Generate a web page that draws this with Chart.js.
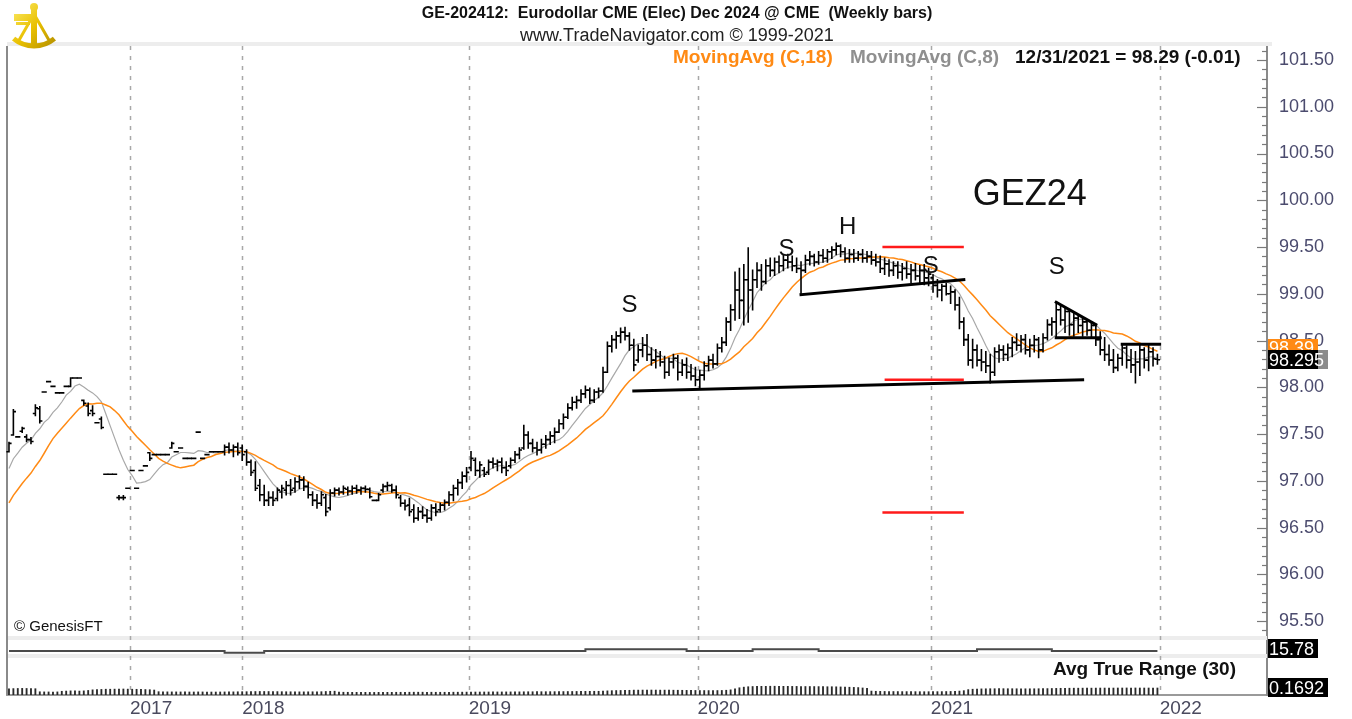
<!DOCTYPE html>
<html>
<head>
<meta charset="utf-8">
<title>GEZ24 weekly bars</title>
<script src="https://cdn.jsdelivr.net/npm/chart.js@4.4.1/dist/chart.umd.min.js"></script>
<style>
  html, body { margin: 0; padding: 0; background: #fff; }
  #wrap { position: relative; width: 1352px; height: 719px; overflow: hidden; font-family: "Liberation Sans", Arial, sans-serif; }
  #wrap canvas { position: absolute; left: 0; top: 0; }
  #wrap #logo { left: 8px; top: 2px; }
  .txt { position: absolute; white-space: nowrap; line-height: 1; }
</style>
</head>
<body>
<div id="wrap">
  <canvas id="chart" width="1352" height="719"></canvas>
  <canvas id="logo" width="52" height="50"></canvas>
  <div class="txt" style="left:0;top:5px;width:1354px;text-align:center;font-weight:bold;font-size:16px;color:#111">GE-202412:&nbsp; Eurodollar CME (Elec) Dec 2024 @ CME&nbsp; (Weekly bars)</div>
  <div class="txt" style="left:0;top:26px;width:1354px;text-align:center;font-size:18px;color:#222">www.TradeNavigator.com © 1999-2021</div>
  <div class="txt" id="lgLong" style="left:673px;top:47px;font-weight:bold;font-size:19px;color:#ff8a14"></div>
  <div class="txt" id="lgShort" style="left:850px;top:47px;font-weight:bold;font-size:19px;color:#8f8f8f"></div>
  <div class="txt" id="lgLast" style="left:1015px;top:47px;font-weight:bold;font-size:19px;color:#111"></div>
  <div class="txt" style="left:14px;top:618px;font-size:15px;color:#111">© GenesisFT</div>
  <div class="txt" id="lgAtr" style="left:1053px;top:659px;font-weight:bold;font-size:19px;color:#111"></div>
</div>
<script>
// weekly bars, index 0 = first visible week
const opens = [
  97.31, 97.49, 97.47, 97.53, 97.47, 97.44, 97.72, 97.77, 97.95, 98.06,
  98.01, 97.94, 97.94, 98.01, 98.01, 98.10, 98.10, 97.86, 97.80, 97.75,
  97.62, 97.66, 97.07, 97.07, 97.07, 96.82, 96.82, 96.92, 97.11, 96.92,
  97.11, 97.16, 97.30, 97.28, 97.28, 97.28, 97.28, 97.35, 97.31, 97.35,
  97.24, 97.24, 97.24, 97.52, 97.24, 97.28, 97.31, 97.31, 97.31, 97.31,
  97.36, 97.33, 97.36, 97.35, 97.31, 97.20, 97.11, 96.95, 96.85, 96.79,
  96.82, 96.81, 96.88, 96.90, 96.95, 96.92, 96.99, 97.01, 96.94, 96.85,
  96.79, 96.76, 96.82, 96.71, 96.87, 96.90, 96.88, 96.91, 96.89, 96.92,
  96.90, 96.92, 96.91, 96.79, 96.79, 96.90, 96.94, 96.95, 96.90, 96.82,
  96.76, 96.74, 96.69, 96.60, 96.67, 96.63, 96.60, 96.71, 96.69, 96.74,
  96.77, 96.85, 96.92, 96.98, 97.05, 97.14, 97.22, 97.11, 97.11, 97.09,
  97.20, 97.18, 97.20, 97.14, 97.16, 97.22, 97.28, 97.35, 97.49, 97.40,
  97.35, 97.33, 97.39, 97.44, 97.48, 97.52, 97.61, 97.68, 97.78, 97.84,
  97.86, 97.93, 97.97, 97.86, 97.95, 97.96, 98.16, 98.44, 98.51, 98.55,
  98.59, 98.55, 98.45, 98.29, 98.40, 98.45, 98.35, 98.29, 98.33, 98.27,
  98.16, 98.27, 98.31, 98.16, 98.24, 98.16, 98.12, 98.08, 98.13, 98.23,
  98.29, 98.25, 98.42, 98.48, 98.70, 98.83, 99.04, 98.93, 99.15, 99.04,
  99.15, 99.25, 99.13, 99.30, 99.25, 99.34, 99.30, 99.36, 99.34, 99.30,
  99.27, 99.25, 99.36, 99.40, 99.34, 99.41, 99.38, 99.45, 99.47, 99.51,
  99.45, 99.38, 99.42, 99.38, 99.42, 99.38, 99.40, 99.36, 99.34, 99.27,
  99.32, 99.25, 99.30, 99.23, 99.27, 99.21, 99.25, 99.19, 99.25, 99.17,
  99.17, 99.09, 99.04, 99.08, 99.00, 99.02, 98.88, 98.70, 98.51, 98.29,
  98.40, 98.29, 98.27, 98.23, 98.16, 98.38, 98.40, 98.35, 98.42, 98.48,
  98.45, 98.51, 98.40, 98.45, 98.51, 98.40, 98.53, 98.67, 98.70, 98.83,
  98.72, 98.81, 98.67, 98.74, 98.66, 98.70, 98.61, 98.66, 98.51, 98.40,
  98.35, 98.29, 98.21, 98.31, 98.42, 98.29, 98.24, 98.27, 98.40, 98.29,
  98.38, 98.30
];
const highs = [
  97.41, 97.76, 97.47, 97.57, 97.49, 97.46, 97.81, 97.79, 97.95, 98.06,
  98.01, 97.94, 97.94, 98.01, 98.10, 98.10, 98.10, 97.86, 97.83, 97.80,
  97.62, 97.68, 97.07, 97.07, 97.07, 96.84, 96.84, 96.92, 97.11, 96.92,
  97.11, 97.16, 97.30, 97.28, 97.28, 97.28, 97.28, 97.41, 97.31, 97.35,
  97.24, 97.24, 97.24, 97.52, 97.24, 97.28, 97.31, 97.31, 97.31, 97.38,
  97.40, 97.38, 97.40, 97.38, 97.33, 97.22, 97.20, 97.01, 96.95, 96.88,
  96.88, 96.92, 96.95, 96.99, 97.01, 97.03, 97.05, 97.04, 96.98, 96.88,
  96.85, 96.88, 96.85, 96.90, 96.92, 96.92, 96.94, 96.93, 96.94, 96.95,
  96.93, 96.94, 96.92, 96.79, 96.86, 96.96, 96.98, 96.96, 96.94, 96.84,
  96.79, 96.81, 96.74, 96.71, 96.72, 96.69, 96.74, 96.75, 96.76, 96.79,
  96.88, 96.95, 97.01, 97.09, 97.14, 97.31, 97.24, 97.20, 97.14, 97.22,
  97.24, 97.22, 97.24, 97.20, 97.24, 97.31, 97.35, 97.59, 97.52, 97.44,
  97.41, 97.44, 97.48, 97.52, 97.56, 97.65, 97.71, 97.82, 97.89, 97.90,
  97.97, 98.01, 97.99, 97.97, 97.99, 98.21, 98.48, 98.55, 98.59, 98.63,
  98.64, 98.58, 98.51, 98.45, 98.53, 98.56, 98.42, 98.40, 98.38, 98.33,
  98.31, 98.35, 98.34, 98.29, 98.31, 98.24, 98.21, 98.18, 98.27, 98.33,
  98.35, 98.46, 98.53, 98.74, 98.88, 99.23, 99.27, 99.31, 99.49, 99.25,
  99.33, 99.31, 99.36, 99.38, 99.38, 99.40, 99.41, 99.42, 99.40, 99.38,
  99.34, 99.41, 99.45, 99.42, 99.45, 99.47, 99.47, 99.50, 99.54, 99.52,
  99.49, 99.47, 99.47, 99.45, 99.47, 99.45, 99.45, 99.42, 99.40, 99.38,
  99.36, 99.34, 99.34, 99.32, 99.34, 99.31, 99.32, 99.30, 99.31, 99.27,
  99.20, 99.15, 99.10, 99.11, 99.08, 99.04, 98.96, 98.74, 98.56, 98.51,
  98.45, 98.40, 98.38, 98.35, 98.42, 98.45, 98.44, 98.46, 98.53, 98.57,
  98.55, 98.56, 98.51, 98.55, 98.53, 98.57, 98.72, 98.74, 98.91, 98.88,
  98.85, 98.83, 98.79, 98.76, 98.74, 98.72, 98.70, 98.67, 98.59, 98.53,
  98.45, 98.40, 98.35, 98.46, 98.44, 98.40, 98.38, 98.45, 98.42, 98.46,
  98.42, 98.35
];
const lows = [
  97.31, 97.49, 97.47, 97.52, 97.42, 97.40, 97.70, 97.62, 97.95, 98.06,
  98.01, 97.94, 97.94, 98.01, 98.01, 98.10, 98.10, 97.81, 97.70, 97.70,
  97.62, 97.56, 97.07, 97.07, 97.07, 96.80, 96.80, 96.92, 97.11, 96.92,
  97.11, 97.16, 97.22, 97.28, 97.28, 97.28, 97.28, 97.35, 97.31, 97.35,
  97.24, 97.24, 97.24, 97.52, 97.24, 97.28, 97.31, 97.31, 97.31, 97.28,
  97.30, 97.26, 97.28, 97.22, 97.17, 97.06, 96.90, 96.79, 96.74, 96.74,
  96.74, 96.79, 96.82, 96.85, 96.85, 96.88, 96.92, 96.90, 96.82, 96.74,
  96.71, 96.74, 96.63, 96.69, 96.84, 96.85, 96.86, 96.85, 96.86, 96.87,
  96.86, 96.88, 96.82, 96.79, 96.79, 96.88, 96.90, 96.88, 96.82, 96.73,
  96.69, 96.63, 96.56, 96.58, 96.60, 96.56, 96.58, 96.63, 96.67, 96.69,
  96.74, 96.79, 96.85, 96.92, 96.99, 97.11, 97.06, 97.04, 97.05, 97.07,
  97.14, 97.11, 97.09, 97.06, 97.14, 97.20, 97.24, 97.34, 97.35, 97.31,
  97.28, 97.30, 97.35, 97.39, 97.41, 97.52, 97.56, 97.67, 97.76, 97.78,
  97.84, 97.89, 97.83, 97.84, 97.89, 97.95, 98.16, 98.38, 98.42, 98.48,
  98.51, 98.40, 98.18, 98.27, 98.33, 98.29, 98.24, 98.21, 98.23, 98.10,
  98.13, 98.21, 98.08, 98.13, 98.10, 98.08, 98.02, 98.00, 98.08, 98.18,
  98.21, 98.24, 98.38, 98.45, 98.61, 98.72, 98.74, 98.67, 98.70, 98.83,
  99.07, 99.04, 99.11, 99.19, 99.20, 99.23, 99.25, 99.28, 99.25, 99.23,
  98.99, 99.23, 99.31, 99.30, 99.32, 99.34, 99.34, 99.38, 99.42, 99.40,
  99.34, 99.34, 99.34, 99.36, 99.34, 99.34, 99.32, 99.30, 99.23, 99.21,
  99.19, 99.20, 99.17, 99.15, 99.17, 99.12, 99.15, 99.12, 99.10, 99.09,
  99.02, 98.97, 98.93, 98.99, 98.90, 98.83, 98.63, 98.45, 98.24, 98.21,
  98.23, 98.18, 98.16, 98.05, 98.13, 98.27, 98.29, 98.29, 98.33, 98.40,
  98.38, 98.36, 98.33, 98.38, 98.32, 98.38, 98.51, 98.56, 98.53, 98.67,
  98.59, 98.56, 98.55, 98.59, 98.55, 98.56, 98.53, 98.45, 98.35, 98.29,
  98.24, 98.16, 98.18, 98.24, 98.21, 98.16, 98.05, 98.13, 98.21, 98.18,
  98.23, 98.25
];
const closes = [
  97.40, 97.74, 97.47, 97.56, 97.44, 97.42, 97.78, 97.64, 97.95, 98.06,
  98.01, 97.94, 97.94, 98.01, 98.10, 98.10, 98.10, 97.83, 97.72, 97.72,
  97.62, 97.57, 97.07, 97.07, 97.07, 96.82, 96.82, 96.92, 97.11, 96.92,
  97.11, 97.16, 97.24, 97.28, 97.28, 97.28, 97.28, 97.40, 97.31, 97.35,
  97.24, 97.24, 97.24, 97.52, 97.24, 97.28, 97.31, 97.31, 97.31, 97.36,
  97.33, 97.36, 97.30, 97.28, 97.20, 97.09, 96.92, 96.85, 96.79, 96.82,
  96.79, 96.90, 96.92, 96.95, 96.90, 96.99, 97.01, 96.94, 96.85, 96.79,
  96.76, 96.85, 96.67, 96.87, 96.90, 96.88, 96.92, 96.89, 96.92, 96.90,
  96.92, 96.91, 96.83, 96.79, 96.85, 96.94, 96.95, 96.90, 96.85, 96.76,
  96.73, 96.67, 96.60, 96.67, 96.63, 96.60, 96.71, 96.67, 96.74, 96.77,
  96.85, 96.92, 96.98, 97.05, 97.09, 97.24, 97.11, 97.17, 97.07, 97.20,
  97.18, 97.20, 97.14, 97.11, 97.22, 97.28, 97.33, 97.49, 97.40, 97.35,
  97.33, 97.39, 97.44, 97.48, 97.52, 97.61, 97.68, 97.78, 97.84, 97.86,
  97.93, 97.97, 97.86, 97.95, 97.96, 98.16, 98.44, 98.51, 98.55, 98.59,
  98.55, 98.45, 98.24, 98.40, 98.45, 98.35, 98.29, 98.33, 98.27, 98.16,
  98.27, 98.31, 98.16, 98.24, 98.16, 98.12, 98.08, 98.13, 98.23, 98.29,
  98.25, 98.42, 98.48, 98.70, 98.83, 99.04, 98.93, 99.15, 99.04, 99.15,
  99.25, 99.13, 99.30, 99.25, 99.34, 99.30, 99.36, 99.34, 99.30, 99.27,
  99.25, 99.36, 99.40, 99.34, 99.41, 99.38, 99.45, 99.47, 99.51, 99.45,
  99.38, 99.42, 99.38, 99.42, 99.38, 99.40, 99.36, 99.34, 99.27, 99.32,
  99.25, 99.30, 99.23, 99.27, 99.21, 99.25, 99.19, 99.25, 99.17, 99.21,
  99.09, 99.04, 99.08, 99.00, 99.02, 98.88, 98.70, 98.51, 98.29, 98.40,
  98.29, 98.27, 98.23, 98.16, 98.38, 98.40, 98.35, 98.42, 98.48, 98.45,
  98.51, 98.40, 98.45, 98.51, 98.40, 98.53, 98.67, 98.70, 98.83, 98.72,
  98.81, 98.67, 98.74, 98.66, 98.70, 98.61, 98.66, 98.51, 98.40, 98.35,
  98.29, 98.21, 98.31, 98.42, 98.29, 98.24, 98.27, 98.40, 98.29, 98.38,
  98.305, 98.295
];
// closes of the 17 weeks before the window (seed for the averages)
const priorCloses = [96.30, 96.35, 96.40, 96.40, 96.45, 96.50, 96.50, 96.55, 96.60, 96.65,
  96.90, 97.00, 97.05, 97.10, 97.15, 97.20, 97.25];

// Avg True Range (30), per week
const atr = [
  0.150, 0.155, 0.158, 0.160, 0.158, 0.155, 0.152, 0.078, 0.075, 0.074,
  0.073, 0.075, 0.090, 0.095, 0.100, 0.098, 0.095, 0.100, 0.110, 0.125,
  0.130, 0.135, 0.140, 0.140, 0.142, 0.145, 0.145, 0.142, 0.140, 0.138,
  0.135, 0.132, 0.128, 0.120, 0.080, 0.078, 0.076, 0.075, 0.075, 0.074,
  0.074, 0.073, 0.073, 0.075, 0.074, 0.073, 0.072, 0.072, 0.073, 0.074,
  0.075, 0.076, 0.078, 0.080, 0.080, 0.082, 0.084, 0.085, 0.085, 0.084,
  0.083, 0.082, 0.080, 0.079, 0.078, 0.077, 0.076, 0.076, 0.077, 0.078,
  0.079, 0.080, 0.085, 0.090, 0.092, 0.068, 0.067, 0.066, 0.065, 0.065,
  0.064, 0.064, 0.063, 0.063, 0.064, 0.064, 0.065, 0.065, 0.066, 0.066,
  0.066, 0.067, 0.068, 0.068, 0.068, 0.067, 0.067, 0.066, 0.066, 0.066,
  0.067, 0.068, 0.068, 0.069, 0.070, 0.071, 0.072, 0.072, 0.073, 0.073,
  0.074, 0.074, 0.074, 0.075, 0.075, 0.075, 0.076, 0.078, 0.079, 0.079,
  0.080, 0.080, 0.080, 0.081, 0.081, 0.082, 0.083, 0.084, 0.085, 0.086,
  0.087, 0.088, 0.089, 0.090, 0.090, 0.092, 0.100, 0.105, 0.108, 0.110,
  0.112, 0.114, 0.118, 0.118, 0.119, 0.120, 0.120, 0.119, 0.118, 0.118,
  0.117, 0.116, 0.115, 0.114, 0.112, 0.110, 0.110, 0.108, 0.108, 0.107,
  0.107, 0.108, 0.110, 0.115, 0.125, 0.150, 0.175, 0.190, 0.200, 0.205,
  0.208, 0.210, 0.210, 0.212, 0.212, 0.212, 0.210, 0.210, 0.208, 0.208,
  0.206, 0.205, 0.205, 0.204, 0.203, 0.202, 0.200, 0.200, 0.198, 0.195,
  0.192, 0.188, 0.184, 0.180, 0.170, 0.160, 0.095, 0.090, 0.088, 0.086,
  0.085, 0.084, 0.083, 0.082, 0.082, 0.081, 0.081, 0.080, 0.080, 0.080,
  0.080, 0.081, 0.082, 0.084, 0.086, 0.090, 0.095, 0.105, 0.130, 0.140,
  0.145, 0.148, 0.150, 0.152, 0.152, 0.153, 0.153, 0.152, 0.152, 0.151,
  0.150, 0.150, 0.150, 0.151, 0.152, 0.153, 0.155, 0.157, 0.160, 0.162,
  0.163, 0.164, 0.165, 0.165, 0.166, 0.166, 0.166, 0.167, 0.168, 0.168,
  0.168, 0.168, 0.169, 0.169, 0.170, 0.170, 0.170, 0.169, 0.169, 0.169,
  0.1692, 0.1692
];

// thin middle study line
const midLine = [
  15.78, 15.78, 15.78, 15.78, 15.78, 15.78, 15.78, 15.78, 15.78, 15.78,
  15.78, 15.78, 15.78, 15.78, 15.78, 15.78, 15.78, 15.78, 15.78, 15.78,
  15.78, 15.78, 15.78, 15.78, 15.78, 15.78, 15.78, 15.78, 15.78, 15.78,
  15.78, 15.78, 15.78, 15.78, 15.78, 15.78, 15.78, 15.78, 15.78, 15.78,
  15.78, 15.78, 15.78, 15.78, 15.78, 15.78, 15.78, 15.78, 15.78, 15.68,
  15.68, 15.68, 15.68, 15.68, 15.68, 15.68, 15.68, 15.68, 15.78, 15.78,
  15.78, 15.78, 15.78, 15.78, 15.78, 15.78, 15.78, 15.78, 15.78, 15.78,
  15.78, 15.78, 15.78, 15.78, 15.78, 15.78, 15.78, 15.78, 15.78, 15.78,
  15.78, 15.78, 15.78, 15.78, 15.78, 15.78, 15.78, 15.78, 15.78, 15.78,
  15.78, 15.78, 15.78, 15.78, 15.78, 15.78, 15.78, 15.78, 15.78, 15.78,
  15.78, 15.78, 15.78, 15.78, 15.78, 15.78, 15.78, 15.78, 15.78, 15.78,
  15.78, 15.78, 15.78, 15.78, 15.78, 15.78, 15.78, 15.78, 15.78, 15.78,
  15.78, 15.78, 15.78, 15.78, 15.78, 15.78, 15.78, 15.78, 15.78, 15.78,
  15.78, 15.88, 15.88, 15.88, 15.88, 15.88, 15.88, 15.88, 15.88, 15.88,
  15.88, 15.88, 15.88, 15.88, 15.88, 15.88, 15.88, 15.88, 15.88, 15.88,
  15.88, 15.88, 15.88, 15.88, 15.78, 15.78, 15.78, 15.78, 15.78, 15.78,
  15.78, 15.78, 15.78, 15.78, 15.78, 15.78, 15.78, 15.78, 15.78, 15.88,
  15.88, 15.88, 15.88, 15.88, 15.88, 15.88, 15.88, 15.88, 15.88, 15.88,
  15.88, 15.88, 15.88, 15.88, 15.78, 15.78, 15.78, 15.78, 15.78, 15.78,
  15.78, 15.78, 15.78, 15.78, 15.78, 15.78, 15.78, 15.78, 15.78, 15.78,
  15.78, 15.78, 15.78, 15.78, 15.78, 15.78, 15.78, 15.78, 15.78, 15.78,
  15.78, 15.78, 15.78, 15.78, 15.78, 15.78, 15.78, 15.78, 15.78, 15.78,
  15.88, 15.88, 15.88, 15.88, 15.88, 15.88, 15.88, 15.88, 15.88, 15.88,
  15.88, 15.88, 15.88, 15.88, 15.88, 15.88, 15.88, 15.78, 15.78, 15.78,
  15.78, 15.78, 15.78, 15.78, 15.78, 15.78, 15.78, 15.78, 15.78, 15.78,
  15.78, 15.78, 15.78, 15.78, 15.78, 15.78, 15.78, 15.78, 15.78, 15.78,
  15.78, 15.78
];

// first weekly bar of each calendar year and its label
const yearStartIdx = [28, 53.5, 105, 157, 210, 262];
const yearLabels = ['2017', '2018', '2019', '2020', '2021', '2022'];
const priceTicks = [95.5, 96, 96.5, 97, 97.5, 98, 98.5, 99, 99.5, 100, 100.5, 101, 101.5];

const lastDate = '12/31/2021';
const maLong = 18, maShort = 8, atrLen = 30;

// drawn studies: [week index, price] pairs
const trendLines = [
  [[142, 97.96], [244, 98.08]],
  [[180, 98.99], [217, 99.15]],
  [[238, 98.91], [247, 98.67]],
  [[238, 98.53], [248, 98.53]],
  [[253, 98.46], [261.5, 98.46]]
];
const targetLines = [
  [[198.5, 99.50], [217, 99.50]],
  [[199, 98.08], [217, 98.08]],
  [[198.5, 96.66], [217, 96.66]]
];
const noteText = ['S', 'S', 'H', 'S', 'S', 'GEZ24'];
const noteIdx = [141, 176.7, 190.6, 209.5, 238.1, 232];
const notePrice = [98.80, 99.40, 99.64, 99.22, 99.21, 99.95];

function movingAvg(period) {
  const all = priorCloses.concat(closes);
  const off = priorCloses.length;
  return closes.map((c, i) => {
    const end = off + i;
    const start = Math.max(0, end - period + 1);
    let s = 0;
    for (let k = start; k <= end; k++) s += all[k];
    return s / (end - start + 1);
  });
}

const maL = movingAvg(maLong);
const maS = movingAvg(maShort);
const last = closes.length - 1;

document.getElementById('lgLong').textContent = 'MovingAvg (C,' + maLong + ')';
document.getElementById('lgShort').textContent = 'MovingAvg (C,' + maShort + ')';
document.getElementById('lgLast').textContent = lastDate + ' = ' + (Math.floor(closes[last] * 100) / 100).toFixed(2) +
  ' (' + (closes[last] - closes[last - 1]).toFixed(2) + ')';
document.getElementById('lgAtr').textContent = 'Avg True Range (' + atrLen + ')';

// small gold sextant badge in the corner
(function drawLogo() {
  const g = document.getElementById('logo').getContext('2d');
  const grad = g.createLinearGradient(0, 0, 52, 50);
  grad.addColorStop(0, '#fff27a');
  grad.addColorStop(0.5, '#e9c000');
  grad.addColorStop(1, '#a88400');
  g.fillStyle = grad;
  g.strokeStyle = grad;
  g.lineWidth = 5;
  g.beginPath();
  g.arc(26, 12, 32, Math.PI * 0.28, Math.PI * 0.72);
  g.stroke();
  g.fillRect(23, 6, 6, 36);
  g.fillRect(6, 12, 18, 7);
  g.fillRect(8, 20, 14, 3);
  g.lineWidth = 3;
  g.beginPath();
  g.moveTo(26, 12); g.lineTo(10, 40);
  g.moveTo(26, 12); g.lineTo(42, 40);
  g.stroke();
  g.beginPath();
  g.arc(26, 5, 4, 0, Math.PI * 2);
  g.fill();
})();

const FONT = '"Liberation Sans", Arial, sans-serif';
Chart.defaults.font.family = FONT;

function valueBox(ctx, left, cy, w, bg, text) {
  ctx.fillStyle = bg;
  ctx.fillRect(left, Math.round(cy - 9.5), w, 19);
  if (text) {
    ctx.fillStyle = '#fff';
    ctx.textAlign = 'left';
    ctx.textBaseline = 'middle';
    ctx.font = '18px ' + FONT;
    ctx.fillText(text, left + 1, cy + 1);
  }
}

const overlay = {
  id: 'overlay',
  beforeDatasetsDraw(chart) {
    const {ctx, chartArea: a} = chart;
    const {x, y, y2} = chart.scales;
    ctx.save();
    ctx.fillStyle = '#ededed';
    ctx.fillRect(a.left, a.top - 4, a.right - a.left + 5, 4);
    ctx.fillRect(a.left, y2.top, a.right - a.left, 4);
    ctx.fillRect(a.left, y2.bottom - 4, a.right - a.left, 4);

    ctx.strokeStyle = '#a8a8a8';
    ctx.lineWidth = 1.5;
    ctx.setLineDash([4, 6]);
    yearStartIdx.forEach(idx => {
      const px = Math.round(x.getPixelForValue(idx - 0.5)) + 0.5;
      ctx.beginPath();
      ctx.moveTo(px, a.top);
      ctx.lineTo(px, a.bottom);
      ctx.stroke();
    });
    ctx.setLineDash([]);

    ctx.strokeStyle = '#8a8a8a';
    ctx.lineWidth = 2;
    ctx.beginPath();
    ctx.moveTo(a.left, a.top);
    ctx.lineTo(a.left, a.bottom);
    ctx.stroke();

    // inward tick marks on the price scale
    ctx.strokeStyle = '#7a7a7a';
    ctx.lineWidth = 1.2;
    for (let k = Math.ceil(y.min * 10); k <= Math.floor(y.max * 10); k++) {
      const py = Math.round(y.getPixelForValue(k / 10)) + 0.5;
      const len = k % 5 === 0 ? 10 : 5;
      ctx.beginPath();
      ctx.moveTo(a.right - len, py);
      ctx.lineTo(a.right, py);
      ctx.stroke();
    }
    ctx.restore();
  },
  afterDatasetsDraw(chart) {
    const {ctx, chartArea: a} = chart;
    const {x, y, y2, y3} = chart.scales;
    ctx.save();

    // OHLC bars
    ctx.strokeStyle = '#000';
    ctx.lineWidth = 1.6;
    for (let i = 0; i < closes.length; i++) {
      const px = x.getPixelForValue(i);
      const pH = y.getPixelForValue(highs[i]), pL = y.getPixelForValue(lows[i]);
      const pO = y.getPixelForValue(opens[i]), pC = y.getPixelForValue(closes[i]);
      ctx.beginPath();
      ctx.moveTo(px, pH - 0.8);
      ctx.lineTo(px, pL + 0.8);
      ctx.moveTo(px - 2.6, pO);
      ctx.lineTo(px, pO);
      ctx.moveTo(px, pC);
      ctx.lineTo(px + 2.6, pC);
      ctx.stroke();
    }

    ctx.lineCap = 'square';
    ctx.strokeStyle = '#000';
    ctx.lineWidth = 3;
    trendLines.forEach(([p, q]) => {
      ctx.beginPath();
      ctx.moveTo(x.getPixelForValue(p[0]), y.getPixelForValue(p[1]));
      ctx.lineTo(x.getPixelForValue(q[0]), y.getPixelForValue(q[1]));
      ctx.stroke();
    });
    ctx.lineCap = 'butt';
    ctx.strokeStyle = '#ff1a1a';
    ctx.lineWidth = 2.5;
    targetLines.forEach(([p, q]) => {
      ctx.beginPath();
      ctx.moveTo(x.getPixelForValue(p[0]), y.getPixelForValue(p[1]));
      ctx.lineTo(x.getPixelForValue(q[0]), y.getPixelForValue(q[1]));
      ctx.stroke();
    });

    ctx.fillStyle = '#111';
    ctx.textAlign = 'center';
    ctx.textBaseline = 'alphabetic';
    noteText.forEach((t, k) => {
      ctx.font = (t.length > 1 ? '36px ' : '24px ') + FONT;
      ctx.fillText(t, x.getPixelForValue(noteIdx[k]), y.getPixelForValue(notePrice[k]));
    });

    // last-value markers on the right scale
    const bx = a.right + 1;
    valueBox(ctx, bx, y.getPixelForValue(maL[last]) - 3, 50, '#ff8a14', maL[last].toFixed(2));
    valueBox(ctx, bx, y.getPixelForValue(closes[last]), 60, '#8c8c8c', '');
    valueBox(ctx, bx, y.getPixelForValue(closes[last]), 50, '#000', closes[last].toFixed(3));
    valueBox(ctx, bx, y2.getPixelForValue(midLine[last]) - 2, 50, '#000', midLine[last].toFixed(2));
    valueBox(ctx, bx, y3.getPixelForValue(atr[last]), 60, '#000', atr[last].toFixed(4));
    ctx.restore();
  }
};

const pts = arr => arr.map((v, i) => ({x: i, y: v}));

new Chart(document.getElementById('chart'), {
  type: 'line',
  data: {
    datasets: [
      {label: 'MovingAvg (C,18)', data: pts(maL), yAxisID: 'y', borderColor: '#ff8a14', borderWidth: 1.5, pointRadius: 0, tension: 0},
      {label: 'MovingAvg (C,8)', data: pts(maS), yAxisID: 'y', borderColor: '#a8a8a8', borderWidth: 1.2, pointRadius: 0, tension: 0},
      {label: 'study', data: pts(midLine), yAxisID: 'y2', borderColor: '#4a4a4a', borderWidth: 2, pointRadius: 0, stepped: true},
      {type: 'bar', label: 'Avg True Range (30)', data: pts(atr), yAxisID: 'y3', backgroundColor: '#2a2a2a', barThickness: 1.2}
    ]
  },
  options: {
    responsive: false,
    animation: false,
    layout: {padding: {left: 7, top: 46, right: 0, bottom: 0}},
    plugins: {legend: {display: false}, tooltip: {enabled: false}},
    scales: {
      x: {
        type: 'linear', min: -0.45, max: 285.9, offset: false,
        grid: {display: false, drawTicks: false, offset: false},
        border: {display: true, color: '#9a9a9a', width: 2},
        afterBuildTicks: s => { s.ticks = yearStartIdx.map(v => ({value: v - 0.5})); },
        afterFit: s => { s.height = 24; },
        ticks: {autoSkip: false, maxRotation: 0, align: 'start', padding: 2, color: '#4a4a5e', font: {size: 19},
          callback: (v, i) => yearLabels[i]}
      },
      y: {
        position: 'right', stack: 'panes', stackWeight: 590, min: 95.34, max: 101.65,
        grid: {display: false, drawTicks: false},
        border: {display: true, color: '#8a8a8a', width: 2},
        afterBuildTicks: s => { s.ticks = priceTicks.map(v => ({value: v})); },
        afterFit: s => { s.width = 85; },
        ticks: {autoSkip: false, padding: 12, color: '#4b4b6e', font: {size: 18}, callback: v => v.toFixed(2)}
      },
      y2: {
        position: 'right', stack: 'panes', stackWeight: 22, min: 15.368, max: 16.662,
        grid: {display: false, drawTicks: false},
        border: {display: true, color: '#8a8a8a', width: 2},
        afterFit: s => { s.width = 85; },
        ticks: {display: false}
      },
      y3: {
        position: 'right', stack: 'panes', stackWeight: 37, min: 0, max: 0.894,
        grid: {display: false, drawTicks: false},
        border: {display: true, color: '#8a8a8a', width: 2},
        afterFit: s => { s.width = 85; },
        ticks: {display: false}
      }
    }
  },
  plugins: [overlay]
});
</script>
</body>
</html>
